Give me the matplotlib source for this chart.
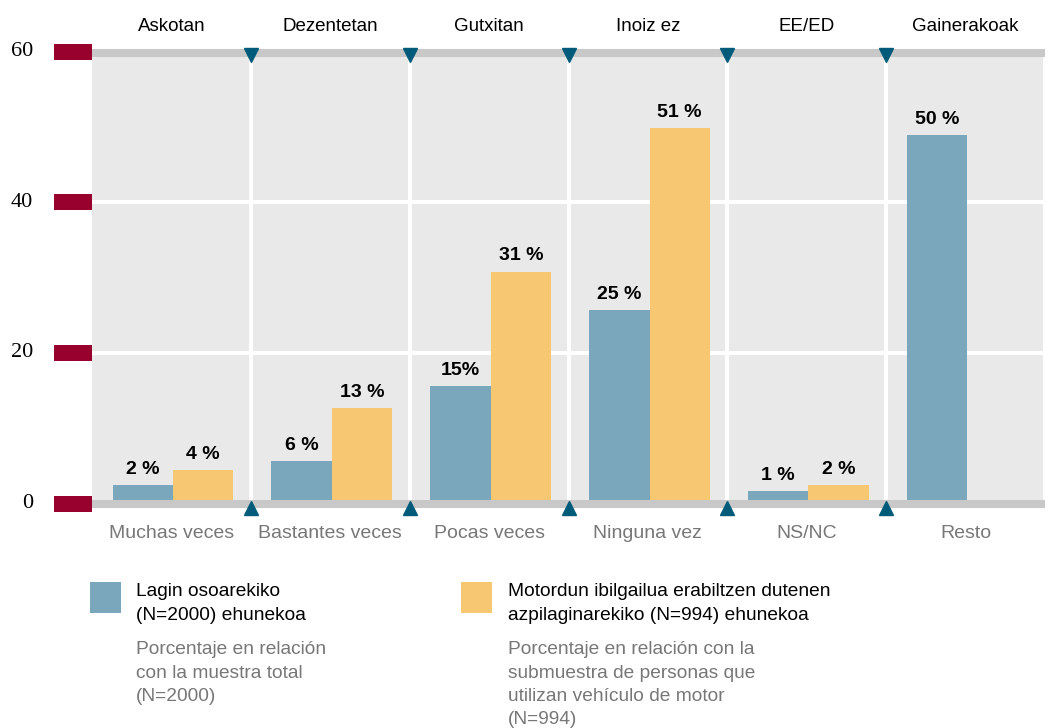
import matplotlib
matplotlib.use("Agg")
import matplotlib.pyplot as plt
from matplotlib.patches import Rectangle

# ---- data ----
top_labels = ["Askotan", "Dezentetan", "Gutxitan", "Inoiz ez", "EE/ED", "Gainerakoak"]
bottom_labels = ["Muchas veces", "Bastantes veces", "Pocas veces", "Ninguna vez", "NS/NC", "Resto"]
total_values = [2.5, 5.6, 15.6, 25.7, 1.6, 48.9]
sub_values = [4.5, 12.7, 30.8, 49.9, 2.5, None]
total_labels = ["2 %", "6 %", "15%", "25 %", "1 %", "50 %"]
sub_labels = ["4 %", "13 %", "31 %", "51 %", "2 %", None]
y_ticks = [0, 20, 40, 60]
legend_main = ["Lagin osoarekiko\n(N=2000) ehunekoa",
               "Motordun ibilgailua erabiltzen dutenen\nazpilaginarekiko (N=994) ehunekoa"]
legend_sub = ["Porcentaje en relación\ncon la muestra total\n(N=2000)",
              "Porcentaje en relación con la\nsubmuestra de personas que\nutilizan vehículo de motor\n(N=994)"]

# ---- style ----
W, H = 1049, 728
BLUE = "#7ba7bd"
YELLOW = "#f8c771"
DARK = "#005b7a"
RED = "#98002e"
BG = "#e9e9e9"
BAND = "#c8c8c8"
GREY_TXT = "#777777"
SANS = "Liberation Sans"

fig = plt.figure(figsize=(W / 100, H / 100), dpi=100)

# axes pixel geometry
x0_px, x1_px = 92, 1045
yt_px, yb_px = 30, 540
zero_px, ppu = 503.5, 7.53
ax = fig.add_axes([x0_px / W, 1 - yb_px / H, (x1_px - x0_px) / W, (yb_px - yt_px) / H])
ax.set_xlim(0, 6)
ax.set_ylim(-(yb_px - zero_px) / ppu, (zero_px - yt_px) / ppu)
ax.axis("off")
upx = 6 / (x1_px - x0_px)  # data x units per pixel

ax.add_patch(Rectangle((0, 0), 6 - 2 * upx, 60, facecolor=BG, edgecolor="none", zorder=0))

# white grid
for yv in [20, 40]:
    ax.plot([0, 6 - 2 * upx], [yv, yv], color="white", lw=2.9, zorder=1, solid_capstyle="butt")
for k in range(1, 6):
    ax.plot([k, k], [0, 60], color="white", lw=2.9, zorder=1, solid_capstyle="butt")

# bars
n = len(top_labels)
bw = 0.38
for i in range(n):
    ax.bar(i + 0.32, total_values[i], width=bw, color=BLUE, zorder=2)
    if sub_values[i] is not None:
        ax.bar(i + 0.70, sub_values[i], width=bw, color=YELLOW, zorder=2)

# value labels
for i in range(n):
    ax.annotate(total_labels[i], (i + 0.32, total_values[i]), xytext=(0, 8), textcoords="offset points",
                ha="center", va="baseline", fontsize=14, fontweight="bold", family=SANS, color="black")
    if sub_values[i] is not None:
        ax.annotate(sub_labels[i], (i + 0.70, sub_values[i]), xytext=(0, 8), textcoords="offset points",
                    ha="center", va="baseline", fontsize=14, fontweight="bold", family=SANS, color="black")

# gray bands at 0 and 60
for yv in [0, 60]:
    yy = yv - 0.2 if yv == 60 else yv
    ax.plot([0, 6], [yy, yy], color=BAND, lw=5.8, zorder=3, solid_capstyle="butt")

# triangles
for k in range(1, 6):
    ax.plot(k, 59.5, marker="v", markersize=10.5, color=DARK, zorder=4, clip_on=False)
    ax.plot(k, -0.6, marker="^", markersize=10.5, color=DARK, zorder=4, clip_on=False)

# red ticks and tick labels
for yv in y_ticks:
    ax.add_patch(Rectangle((-38 * upx, yv - 8 / ppu), 38 * upx, 16 / ppu, facecolor=RED,
                           edgecolor="none", clip_on=False, zorder=4))
    ax.text(-59 * upx, yv, str(yv), ha="right", va="center", fontsize=16,
            family="Liberation Serif", color="black")

# category labels
for i in range(n):
    ax.text(i + 0.5, 60 + 25 / ppu, top_labels[i], ha="center", va="center", fontsize=13.5,
            family=SANS, color="black")
    ax.text(i + 0.5, -30 / ppu, bottom_labels[i], ha="center", va="center", fontsize=14,
            family=SANS, color=GREY_TXT)

# legend
def px(x, y):
    return x / W, 1 - y / H

for sq_x, col, txt_x, main, sub in [(90, BLUE, 136, legend_main[0], legend_sub[0]),
                                   (461, YELLOW, 508, legend_main[1], legend_sub[1])]:
    fig.patches.append(Rectangle(px(sq_x, 613), 31 / W, 31 / H, facecolor=col, edgecolor="none",
                                 transform=fig.transFigure, figure=fig))
    fig.text(*px(txt_x, 583), main, ha="left", va="top", fontsize=13.8, family=SANS,
             color="black", linespacing=1.5)
    fig.text(*px(txt_x, 641), sub, ha="left", va="top", fontsize=13.8, family=SANS,
             color=GREY_TXT, linespacing=1.5)

fig.savefig("out.png", dpi=100)
